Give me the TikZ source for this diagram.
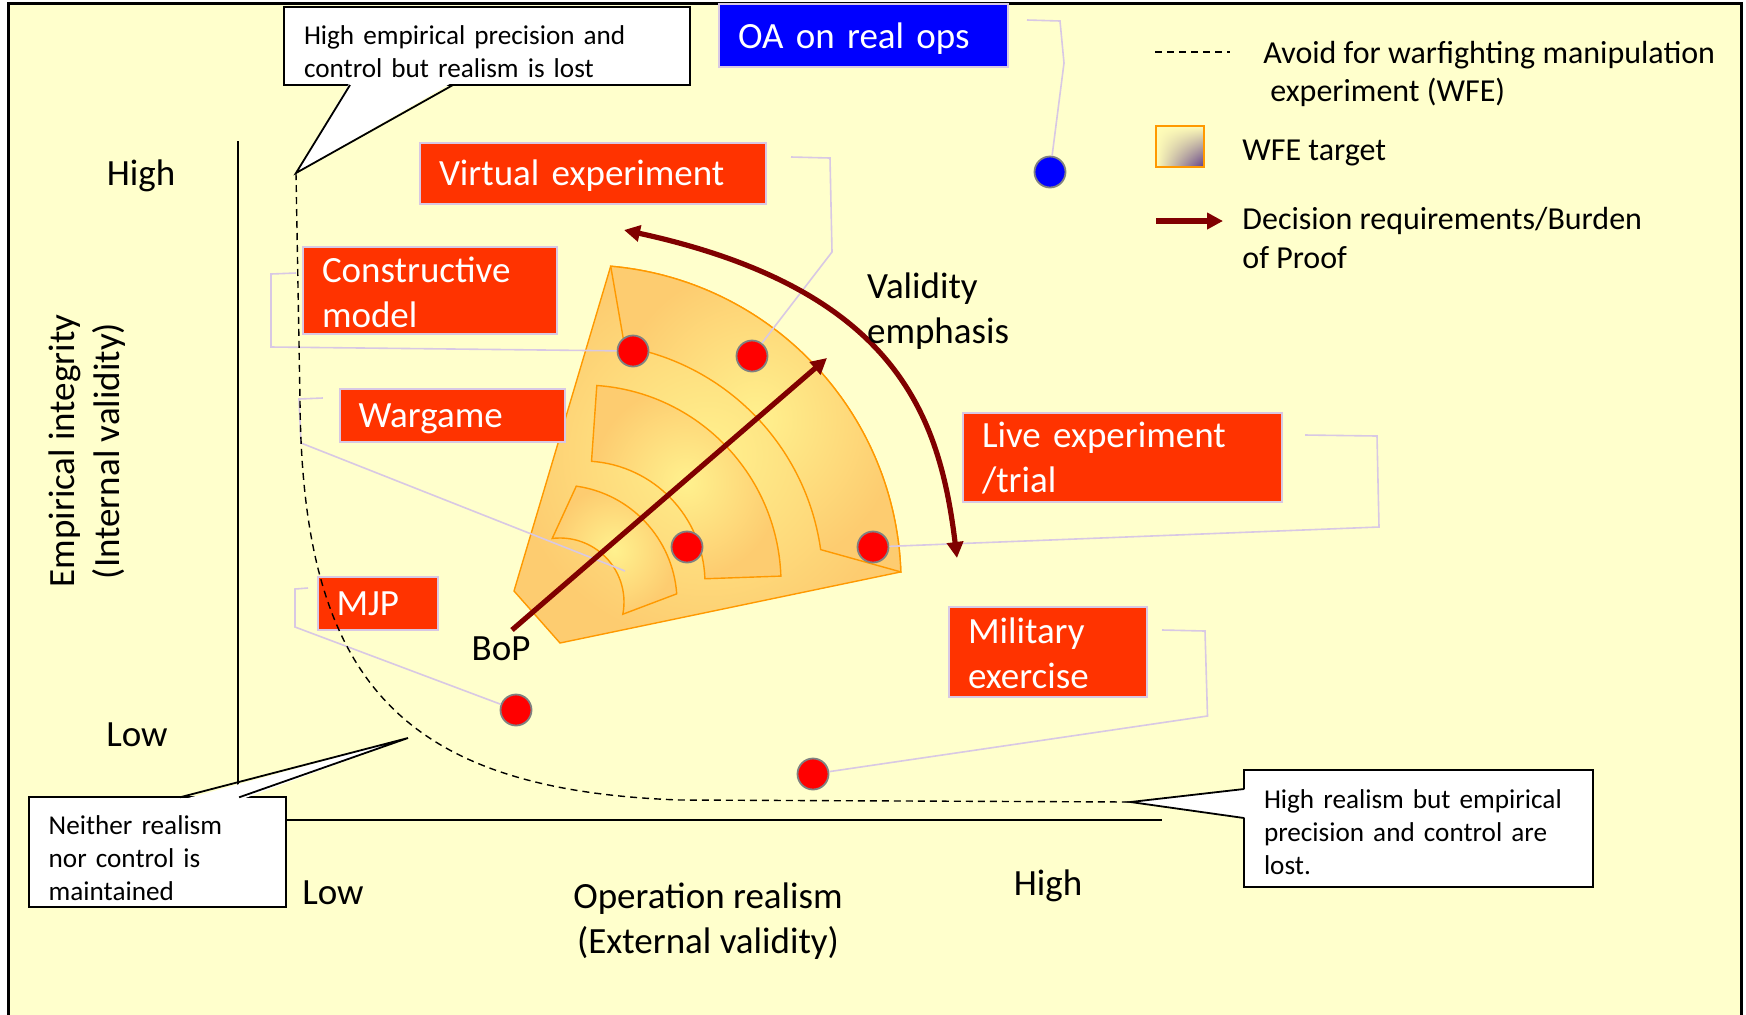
\documentclass[tikz,border=0pt]{standalone}
\usepackage{fontspec}
\setmainfont{Carlito}
\usetikzlibrary{arrows.meta,shadings}

\begin{document}
\begin{tikzpicture}[x=0.5pt,y=-0.5pt]
    \definecolor{paper-color}{HTML}{FFFFCC}
    \definecolor{box-color}{HTML}{FF3300}
    \definecolor{ops-color}{HTML}{0000FF}
    \definecolor{edge-color}{HTML}{D8C8E4}
    \definecolor{fan-light}{HTML}{FFF18E}
    \definecolor{fan-dark}{HTML}{FDCC70}
    \definecolor{fan-line}{HTML}{FF9900}
    \definecolor{bop-color}{HTML}{800000}
    \definecolor{wfe-light}{HTML}{FFFDB8}
    \definecolor{wfe-purple}{HTML}{5E3C88}
    \tikzstyle{every node}=[font=\fontsize{18.5}{22.5}\selectfont]
    \tikzstyle{method} = [rectangle, draw=edge-color, line width=1pt, fill=box-color, text=white, align=left, inner xsep=9.5pt, inner ysep=0pt, text depth=-2pt]
    \tikzstyle{callout} = [rectangle, draw=black, line width=0.9pt, fill=white, outer sep=0pt, anchor=north west, align=left, inner xsep=10pt, inner ysep=0pt, font=\fontsize{13.6}{16.6}\selectfont]
    \tikzstyle{legend} = [font=\fontsize{16}{19.3}\selectfont, align=left, anchor=west, inner sep=0pt]
    \tikzstyle{dot} = [circle, draw=gray, line width=0.9pt, fill=red, minimum size=15.5pt, inner sep=0pt]
    \tikzstyle{leader} = [draw=edge-color, line width=0.8pt]
    \tikzstyle{band} = [draw=fan-line, line width=0.7pt, inner color=fan-light, outer color=fan-dark]
    \tikzstyle{avoid} = [draw=black, line width=0.7pt, dash pattern=on 3.5pt off 2.5pt]
    \tikzstyle{burden} = [draw=bop-color, line width=2.6pt, -{Triangle[length=8pt,width=8pt]}]

    \useasboundingbox (0,0) rectangle (1746,1014);
    \clip (0,0) rectangle (1746,1014);
    \draw[fill=paper-color, line width=1.5pt] (8,3) rectangle (1741,1040);

    \draw[line width=0.8pt] (238,141) -- (238,820) -- (1162,820);

    \coordinate (fan) at (583,583);
    \coordinate (core) at (560,602);
    \shade[band] ([shift={(-85:318)}]fan) arc[start angle=-85, end angle=-2, radius=318] -- (560,643) -- (514,591) -- cycle;
    \shade[band] ([shift={(-85:318)}]fan) arc[start angle=-85, end angle=-2, radius=318] -- ([shift={(-8:240)}]fan) arc[start angle=-8, end angle=-80, radius=240] -- cycle;
    \shade[band] ([shift={(-86:198)}]fan) arc[start angle=-86, end angle=-2, radius=198] -- ([shift={(-2:122)}]fan) arc[start angle=-2, end angle=-86, radius=122] -- cycle;
    \shade[band] ([shift={(-82:117)}]core) arc[start angle=-82, end angle=-4, radius=117] -- ([shift={(11:64)}]core) arc[start angle=11, end angle=-97, radius=64] -- cycle;

    \node (oa) [method, fill=ops-color, minimum width=144.5pt, minimum height=31.5pt, text width=125.5pt] at (863.5,35.5) {OA on real ops};
    \node (virt) [method, minimum width=173pt, minimum height=30.5pt, text width=154pt] at (593,173) {Virtual experiment};
    \node (cons) [method, minimum width=127pt, minimum height=43.5pt, text width=108pt, text depth=20.8pt] at (430,290.5) {Constructive\\model};
    \node (warg) [method, minimum width=112.5pt, minimum height=26.7pt, text width=93.5pt] at (452,415.3) {Wargame};
    \node (live) [method, minimum width=159.5pt, minimum height=44.5pt, text width=140.5pt, text depth=22.7pt] at (1122.5,457.5) {Live experiment\\/trial};
    \node (mil) [method, minimum width=99pt, minimum height=45pt, text width=80pt, text depth=21.4pt] at (1048,652) {Military\\exercise};
    \node (mjp) [method, minimum width=60pt, minimum height=26.5pt, text width=41pt] at (377.5,603.5) {MJP};

    \node (doa) [dot, fill=ops-color] at (1050,172) {};
    \node (dcons) [dot] at (633,351) {};
    \node (dvirt) [dot] at (752,356) {};
    \node (dinner) [dot] at (687,547) {};
    \node (dlive) [dot] at (873,547) {};
    \node (dmjp) [dot] at (516,710) {};
    \node (dmil) [dot] at (813,774) {};
    \coordinate (wgend) at (625,571);

    \draw[leader] ([xshift=9pt,yshift=-8.5pt]oa.north east) -- (1060,21) -- (1064,63) -- (doa);
    \draw[leader] ([xshift=12pt,yshift=-7.75pt]virt.north east) -- (830,158) -- (832,252) -- (dvirt);
    \draw[leader] ([xshift=-3pt,yshift=-13.5pt]cons.north west) -- (271,274) -- (271,347) -- (dcons);
    \draw[leader] ([xshift=-7.8pt,yshift=-5.2pt]warg.north west) -- (299,399) -- (301,443) -- (wgend);
    \draw[leader] ([xshift=-4.25pt,yshift=-6pt]mjp.north west) -- (295,589) -- (295,627) -- (dmjp);
    \draw[leader] ([xshift=11pt,yshift=-11.5pt]live.north east) -- (1377,436) -- (1379,527) -- (dlive);
    \draw[leader] ([xshift=7pt,yshift=-12pt]mil.north east) -- (1205,631) -- (1207.5,716) -- (dmil);

    \coordinate (bopfoot) at (512,630);
    \coordinate (boptip) at (827,358);
    \coordinate (valtop) at (624,230);
    \coordinate (valend) at (957,558);
    \draw[burden] (bopfoot) -- (boptip);
    \draw[burden, {Triangle[length=8pt,width=8pt]}-{Triangle[length=8pt,width=8pt]}] (valtop) .. controls (900,290) and (940,420) .. (valend);

    \node (yhigh) at (141,176) {High};
    \node (ylow) at (137,735) {Low};
    \node (xlow) at (333,893) {Low};
    \node (xhigh) at (1048,886) {High};
    \node (xtitle) [align=center] at (708,921) {Operation realism\\(External validity)};
    \node (ytitle) [align=center, rotate=90] at (87,451) {Empirical integrity\\(Internal validity)};
    \node (valtext) [align=left, anchor=west] at (860,311) {Validity\\emphasis};
    \node (boptext) at (501,649) {BoP};

    \coordinate (toptip) at (296,173);
    \coordinate (lowtip) at (408,738);
    \coordinate (realtip) at (1130.5,802);
    \draw[avoid] (toptip) -- (300,400) .. controls (302,680) and (400,790) .. (680,800) -- (realtip);

    \node (calltop) [callout, minimum width=203pt, minimum height=39pt, text width=183pt, text depth=11pt] at (284,7) {High empirical precision and\\control but realism is lost};
    \fill[white] ([xshift=33pt,yshift=1.5pt]calltop.south west) -- ([xshift=84.5pt,yshift=1.5pt]calltop.south west) -- (toptip) -- cycle;
    \draw[line width=0.9pt] ([xshift=33pt]calltop.south west) -- (toptip) -- ([xshift=84.5pt]calltop.south west);

    \node (calllow) [callout, minimum width=128.8pt, minimum height=55pt, text width=108.8pt, text depth=27.6pt] at (28.7,797.3) {Neither realism\\nor control is\\maintained};
    \fill[white] ([xshift=75.6pt,yshift=-1.5pt]calllow.north west) -- ([xshift=105.2pt,yshift=-1.5pt]calllow.north west) -- (lowtip) -- cycle;
    \draw[line width=0.9pt] ([xshift=75.6pt]calllow.north west) -- (lowtip) -- ([xshift=105.2pt]calllow.north west);

    \node (callreal) [callout, minimum width=174.3pt, minimum height=58.4pt, text width=154.3pt, text depth=29.8pt] at (1244,770) {High realism but empirical\\precision and control are\\lost.};
    \fill[white] ([xshift=1.5pt,yshift=-9.5pt]callreal.north west) -- ([xshift=1.5pt,yshift=-24pt]callreal.north west) -- (realtip) -- cycle;
    \draw[line width=0.9pt] ([yshift=-9.5pt]callreal.north west) -- (realtip) -- ([yshift=-24pt]callreal.north west);

    \draw[avoid] (1155,52) -- (1230,52);
    \node (avoidtext) [legend] at (1263,74) {Avoid for warfighting manipulation\\\hspace*{3.5pt}experiment (WFE)};
    \shade[upper left=wfe-light, upper right=wfe-light, lower left=wfe-light, lower right=wfe-purple] (1156,126) rectangle (1204,167);
    \draw[fan-line, line width=1pt] (1156,126) rectangle (1204,167);
    \node (wfetext) [legend] at (1242,153) {WFE target};
    \draw[burden] (1156,221) -- (1223,221);
    \node (burdentext) [legend] at (1242,238) {Decision requirements/Burden\\of Proof};
\end{tikzpicture}
\end{document}
